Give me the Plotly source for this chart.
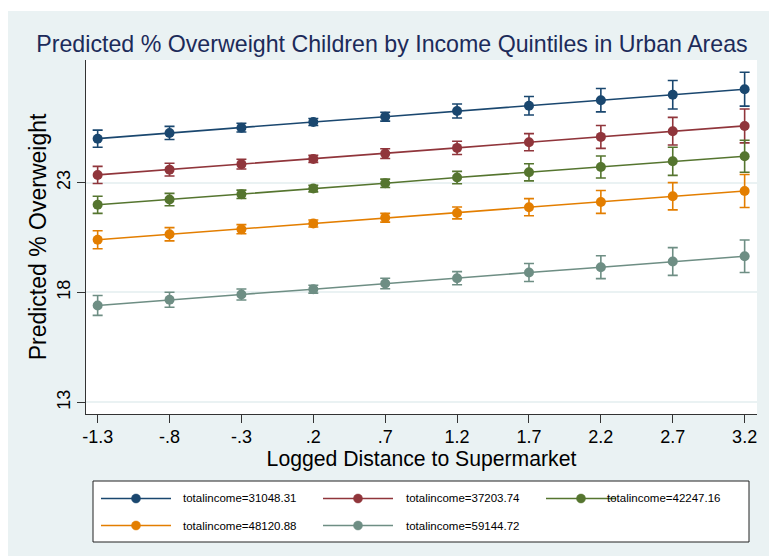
import plotly.graph_objects as go

# Logged distance to supermarket (x positions) and tick labels
x_vals = [-1.3, -0.8, -0.3, 0.2, 0.7, 1.2, 1.7, 2.2, 2.7, 3.2]
x_tick_text = ["-1.3", "-.8", "-.3", ".2", ".7", "1.2", "1.7", "2.2", "2.7", "3.2"]
y_tick_vals = [13, 18, 23]
y_tick_text = ["13", "18", "23"]

series_names = [
    "totalincome=31048.31",
    "totalincome=37203.74",
    "totalincome=42247.16",
    "totalincome=48120.88",
    "totalincome=59144.72",
]

# Predicted % overweight and half-width of the confidence interval per quintile
pred_31048 = [25.00, 25.26, 25.50, 25.76, 26.00, 26.26, 26.50, 26.75, 27.00, 27.25]
ci_31048 = [0.39, 0.30, 0.20, 0.16, 0.20, 0.32, 0.42, 0.53, 0.65, 0.77]
pred_37203 = [23.35, 23.59, 23.84, 24.08, 24.32, 24.58, 24.84, 25.08, 25.34, 25.58]
ci_37203 = [0.39, 0.29, 0.22, 0.16, 0.22, 0.30, 0.39, 0.52, 0.63, 0.77]
pred_42247 = [21.99, 22.23, 22.47, 22.73, 22.97, 23.23, 23.47, 23.71, 23.97, 24.20]
ci_42247 = [0.39, 0.28, 0.19, 0.15, 0.19, 0.28, 0.39, 0.50, 0.64, 0.73]
pred_48121 = [20.40, 20.65, 20.88, 21.14, 21.40, 21.62, 21.88, 22.12, 22.38, 22.62]
ci_48121 = [0.41, 0.30, 0.21, 0.16, 0.20, 0.27, 0.39, 0.52, 0.62, 0.75]
pred_59145 = [17.41, 17.67, 17.91, 18.15, 18.41, 18.65, 18.91, 19.15, 19.41, 19.65]
ci_59145 = [0.45, 0.34, 0.25, 0.18, 0.24, 0.30, 0.41, 0.52, 0.63, 0.74]

series_values = [pred_31048, pred_37203, pred_42247, pred_48121, pred_59145]
series_ci = [ci_31048, ci_37203, ci_42247, ci_48121, ci_59145]
colors = ["#1A476F", "#90353B", "#55752F", "#E37E00", "#6E8E84"]

FONT = "Liberation Sans, Arial, Helvetica, sans-serif"
BG = "#EAF2F3"

W, H = 769, 556
ML, MR, MT, MB = 86, 12, 60, 142
PW, PH = W - ML - MR, H - MT - MB


def px_x(p):
    return (p - ML) / PW


def px_y(p):
    return (H - MB - p) / PH


fig = go.Figure()

for name, vals, ci, col in zip(series_names, series_values, series_ci, colors):
    fig.add_trace(go.Scatter(
        x=x_vals, y=vals, name=name, mode="lines+markers",
        line=dict(color=col, width=1.6),
        marker=dict(color=col, size=10),
        error_y=dict(type="data", array=ci, visible=True,
                     color=col, thickness=1.6, width=5),
        showlegend=False,
    ))

shapes = []
annotations = []

# white strips around the grey graph region
shapes.append(dict(type="rect", xref="paper", yref="paper", layer="below",
                   x0=px_x(0), x1=px_x(W), y0=px_y(11), y1=px_y(0),
                   fillcolor="white", line=dict(width=0)))
shapes.append(dict(type="rect", xref="paper", yref="paper", layer="below",
                   x0=px_x(0), x1=px_x(8), y0=px_y(H), y1=px_y(0),
                   fillcolor="white", line=dict(width=0)))

# legend box
shapes.append(dict(type="rect", xref="paper", yref="paper", layer="above",
                   x0=px_x(93), x1=px_x(749), y0=px_y(542), y1=px_y(481),
                   fillcolor="white", line=dict(color="#222222", width=1)))

col_line_start = [101, 323, 546]
col_text_x = [181, 404, 605]
row_y = [498.5, 525.5]
slots = [(0, 0), (0, 1), (0, 2), (1, 0), (1, 1)]
for (r, c), name, col in zip(slots, series_names, colors):
    ly = px_y(row_y[r])
    x0 = col_line_start[c]
    shapes.append(dict(type="line", xref="paper", yref="paper", layer="above",
                       x0=px_x(x0), x1=px_x(x0 + 70), y0=ly, y1=ly,
                       line=dict(color=col, width=1.6)))
    shapes.append(dict(type="circle", xref="paper", yref="paper", layer="above",
                       xsizemode="pixel", ysizemode="pixel",
                       xanchor=px_x(x0 + 35), yanchor=ly,
                       x0=-4.5, x1=4.5, y0=-4.5, y1=4.5,
                       fillcolor=col, line=dict(color=col, width=0.5)))
    annotations.append(dict(xref="paper", yref="paper", x=px_x(col_text_x[c]), y=ly,
                            xanchor="left", yanchor="middle", showarrow=False,
                            text=name, font=dict(family=FONT, size=11.5, color="black")))

fig.update_layout(
    width=W, height=H,
    margin=dict(l=ML, r=MR, t=MT, b=MB, pad=0),
    paper_bgcolor=BG, plot_bgcolor="white",
    font=dict(family=FONT, color="black"),
    title=dict(text="Predicted % Overweight Children by Income Quintiles in Urban Areas",
               x=392 / W, xanchor="center", y=(H - 44) / H, yanchor="middle",
               font=dict(family=FONT, size=23.2, color="#1C2B5A")),
    shapes=shapes,
    annotations=annotations,
    showlegend=False,
)

fig.update_xaxes(
    range=[-1.381, 3.286], tickvals=x_vals, ticktext=x_tick_text,
    ticks="outside", ticklen=8, tickwidth=1, tickcolor="#333333",
    showline=True, linecolor="#333333", linewidth=1,
    showgrid=False, zeroline=False, ticklabelstandoff=-2,
    tickfont=dict(family=FONT, size=18, color="black"),
    title=dict(text="Logged Distance to Supermarket", standoff=3,
               font=dict(family=FONT, size=21.2, color="black")),
)
fig.update_yaxes(
    range=[12.47, 28.58], tickvals=y_tick_vals, ticktext=y_tick_text, tickangle=-90,
    ticks="outside", ticklen=8, tickwidth=1, tickcolor="#333333",
    showline=True, linecolor="#333333", linewidth=1,
    showgrid=True, gridcolor=BG, gridwidth=1.5, zeroline=False,
    tickfont=dict(family=FONT, size=18, color="black"),
    title=dict(text="Predicted % Overweight", standoff=0,
               font=dict(family=FONT, size=23, color="black")),
)

fig.write_html("out.html")
